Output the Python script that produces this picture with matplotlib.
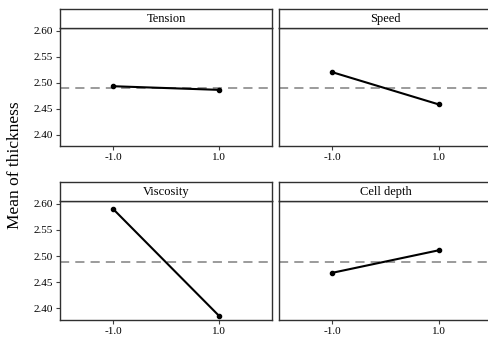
import matplotlib
matplotlib.use('Agg')
import matplotlib.pyplot as plt

# Main effects data
factors = ['Tension', 'Speed', 'Viscosity', 'Cell depth']
levels = [-1.0, 1.0]
means = [
    [2.493, 2.486],
    [2.520, 2.458],
    [2.590, 2.386],
    [2.468, 2.511],
]
grand_mean = 2.489
yticks = [2.40, 2.45, 2.50, 2.55, 2.60]
xtick_labels = ['-1.0', '1.0']

plt.rcParams['font.family'] = ['Liberation Serif', 'DejaVu Serif']

W, H = 488, 342
fig = plt.figure(figsize=(W / 100, H / 100), dpi=100)

# panel boxes in pixels: (left, right, strip_top, strip_bottom, bottom)
cols = [(60, 272), (279, 492)]
rows = [(9, 28, 146), (182, 201, 320)]


def frac(l, r, t, b):
    return [l / W, 1 - b / H, (r - l) / W, (b - t) / H]


for i, name in enumerate(factors):
    row, col = divmod(i, 2)
    l, r = cols[col]
    st, sb, b = rows[row]

    ax = fig.add_axes(frac(l, r, sb, b))
    ax.axhline(grand_mean, color='#808080', lw=1.1, ls=(0, (6, 4)), zorder=1)
    ax.plot(levels, means[i], color='black', lw=1.5, marker='o', ms=3, zorder=3)
    ax.set_xlim(-2.0, 2.0)
    ax.set_ylim(2.378, 2.605)
    ax.set_xticks(levels)
    ax.set_xticklabels(xtick_labels, fontsize=8)
    if col == 0:
        ax.set_yticks(yticks)
        ax.set_yticklabels([f'{v:.2f}' for v in yticks], fontsize=8)
    else:
        ax.set_yticks([])
    ax.tick_params(direction='out', length=3, width=0.8, color='#404040', pad=2)
    for s in ax.spines.values():
        s.set_color('#303030')
        s.set_linewidth(1.0)
    if col == 1:
        ax.spines['right'].set_visible(False)

    sax = fig.add_axes(frac(l, r, st, sb))
    sax.set_xticks([])
    sax.set_yticks([])
    for s in sax.spines.values():
        s.set_color('#303030')
        s.set_linewidth(1.0)
    if col == 1:
        sax.spines['right'].set_visible(False)
    sax.text(0.5, 0.3, name, ha='center', va='baseline', fontsize=9, transform=sax.transAxes)

fig.text(15 / W, 1 - 165 / H, 'Mean of thickness', rotation=90, ha='center', va='center', fontsize=12.5)

fig.savefig('out.png', dpi=100)
